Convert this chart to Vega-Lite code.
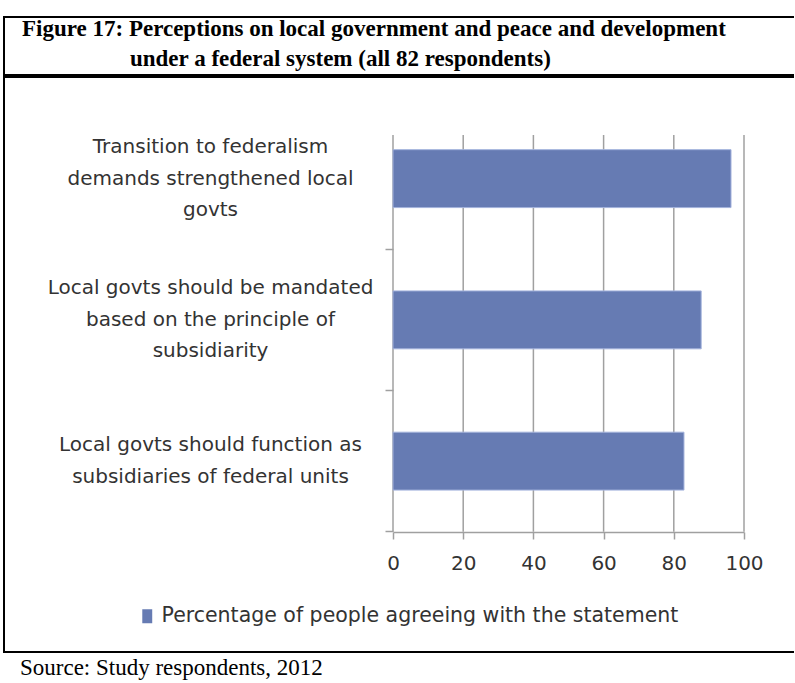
{
  "$schema": "https://vega.github.io/schema/vega-lite/v6.json",
  "background": "white",
  "padding": {"left": 3, "top": 16, "right": 0, "bottom": 0},
  "spacing": 0,
  "title": {
    "text": "Source: Study respondents, 2012",
    "orient": "bottom",
    "anchor": "start",
    "frame": "bounds",
    "font": "Liberation Serif",
    "fontSize": 23,
    "fontWeight": "normal",
    "color": "black",
    "offset": 4,
    "dx": 17
  },
  "vconcat": [
    {
      "width": 790,
      "height": 58,
      "view": {"stroke": "black", "strokeWidth": 2, "strokeDash": [790, 58, 848]},
      "data": {"values": [{}]},
      "layer": [
        {
          "mark": {
            "type": "text",
            "text": "Figure 17: Perceptions on local government and peace and development",
            "align": "left",
            "baseline": "alphabetic",
            "font": "Liberation Serif",
            "fontWeight": "bold",
            "fontSize": 23,
            "color": "black",
            "dx": -377,
            "dy": -10
          },
          "encoding": {}
        },
        {
          "mark": {
            "type": "text",
            "text": "under a federal system (all 82 respondents)",
            "align": "left",
            "baseline": "alphabetic",
            "font": "Liberation Serif",
            "fontWeight": "bold",
            "fontSize": 23,
            "color": "black",
            "dx": -269,
            "dy": 20
          },
          "encoding": {}
        }
      ]
    },
    {
      "width": 790,
      "height": 575,
      "view": {"stroke": "black", "strokeWidth": 2, "strokeDash": [790, 575, 1365]},
      "layer": [
        {
          "data": {"values": [{"tick": 0}, {"tick": 20}, {"tick": 40}, {"tick": 60}, {"tick": 80}, {"tick": 100}]},
          "mark": {"type": "rule", "color": "#a0a0a0", "strokeWidth": 1.5},
          "encoding": {
            "x": {"field": "tick", "type": "quantitative", "title": null},
            "y": {"datum": "Transition to federalism\ndemands strengthened local\ngovts", "type": "nominal", "bandPosition": 0.191, "title": null},
            "y2": {"datum": "Local govts should function as\nsubsidiaries of federal units", "bandPosition": 1}
          }
        },
        {
          "data": {
            "values": [
              {"statement": "Transition to federalism\ndemands strengthened local\ngovts", "pct": 96.3, "series": "Percentage of people agreeing with the statement"},
              {"statement": "Local govts should be mandated\nbased on the principle of\nsubsidiarity", "pct": 87.8, "series": "Percentage of people agreeing with the statement"},
              {"statement": "Local govts should function as\nsubsidiaries of federal units", "pct": 82.9, "series": "Percentage of people agreeing with the statement"}
            ]
          },
          "mark": {"type": "bar", "height": {"band": 0.41}, "stroke": "#a3b2dc", "strokeWidth": 1},
          "encoding": {
            "y": {
              "field": "statement",
              "type": "nominal",
              "sort": null,
              "title": null,
              "scale": {
                "domain": [
                  "Transition to federalism\ndemands strengthened local\ngovts",
                  "Local govts should be mandated\nbased on the principle of\nsubsidiarity",
                  "Local govts should function as\nsubsidiaries of federal units"
                ],
                "paddingInner": 0,
                "paddingOuter": 0.5354,
                "align": 0.205
              },
              "axis": {
                "orient": "left",
                "offset": -389,
                "bandPosition": 1,
                "grid": false,
                "domain": false,
                "tickColor": "#a0a0a0",
                "tickWidth": 1.5,
                "tickSize": 8,
                "labelExpr": "split(datum.value, '\\n')",
                "labelOffset": {"expr": "-(length(split(datum.value, '\\n')) - 1) * 15.75"},
                "labelAlign": "center",
                "labelBaseline": "middle",
                "labelPadding": 175,
                "labelFont": "DejaVu Sans",
                "labelFontSize": 20,
                "labelColor": "#333333",
                "labelLineHeight": 31.5,
                "labelLimit": 0
              }
            },
            "x": {
              "field": "pct",
              "type": "quantitative",
              "title": null,
              "scale": {"domain": [0, 100], "range": [389, 740], "nice": false},
              "axis": {
                "orient": "bottom",
                "offset": -120,
                "values": [0, 20, 40, 60, 80, 100],
                "grid": false,
                "domainColor": "#a0a0a0",
                "domainWidth": 1.5,
                "tickColor": "#a0a0a0",
                "tickWidth": 1.5,
                "tickSize": 7,
                "labelFont": "DejaVu Sans",
                "labelFontSize": 20,
                "labelColor": "#333333",
                "labelPadding": 14,
                "labelFlush": false
              }
            },
            "color": {
              "field": "series",
              "type": "nominal",
              "scale": {"range": ["#667bb3"]},
              "legend": {
                "orient": "none",
                "legendX": 133,
                "legendY": 589,
                "title": null,
                "padding": 0,
                "symbolType": "M-0.71,-1H0.71V1H-0.71Z",
                "symbolSize": 196,
                "symbolStrokeWidth": 0,
                "labelFont": "DejaVu Sans",
                "labelFontSize": 20.5,
                "labelColor": "#333333",
                "labelOffset": 4,
                "labelLimit": 0
              }
            }
          }
        }
      ]
    }
  ]
}
